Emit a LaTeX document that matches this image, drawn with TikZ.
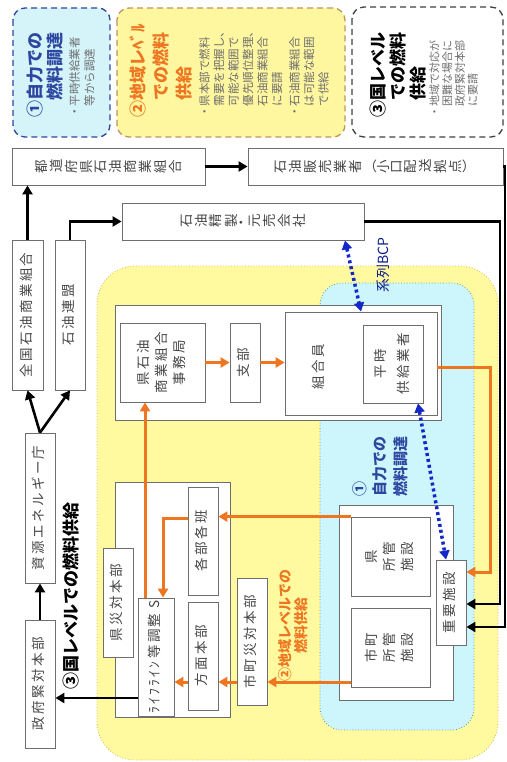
\documentclass[tikz,border=0pt]{standalone}
\usepackage{fontspec}
\usepackage{graphicx}
\setmainfont{Noto Sans CJK JP}
\newfontfamily\bx{Noto Sans CJK JP}[LetterSpace=18]
\usetikzlibrary{arrows.meta}

\definecolor{boxline}{RGB}{110,110,110}
\definecolor{boxtext}{RGB}{70,70,70}
\definecolor{orng}{RGB}{238,118,32}
\definecolor{yel}{RGB}{255,250,160}
\definecolor{yelline}{RGB}{215,185,70}
\definecolor{cyn}{RGB}{205,246,252}
\definecolor{cynline}{RGB}{110,150,140}
\definecolor{lgdblue}{RGB}{45,70,160}
\definecolor{bcpblue}{RGB}{20,40,200}
\definecolor{lgdfill}{RGB}{212,244,250}
\definecolor{lgdyel}{RGB}{255,246,160}
\definecolor{lgdorline}{RGB}{190,150,90}
\definecolor{grytext}{RGB}{110,110,110}

% horizontal text turned a quarter left
\newcommand\rt[1]{\rotatebox{90}{\begin{tabular}{@{}c@{}}#1\end{tabular}}}
% vertical text turned a quarter left
\makeatletter
\newcommand\tate[1]{\@tfor\tate@c:=#1\do{\rotatebox[origin=c]{90}{\tate@c}\kern2.6pt}\unkern}
\makeatother

\tikzset{
  box/.style={draw=boxline, fill=white, line width=0.8pt, inner sep=0pt,
    font=\bx\fontsize{13.5}{18}\selectfont, text=boxtext},
  lgd/.style={rotate=90, anchor=north west, inner sep=0pt, align=left},
  blk/.style={line width=2.6pt, -{Triangle[length=9pt,width=10pt]}},
  org/.style={draw=orng, line width=3pt, -{Triangle[length=9pt,width=10pt]}},
  bcp/.style={draw=bcpblue, line width=3.5pt, dash pattern=on 3pt off 3pt,
    {Triangle[length=9pt,width=10pt]}-{Triangle[length=9pt,width=10pt]}},
}

\begin{document}
\begin{tikzpicture}[x=1pt, y=-1pt]
		\useasboundingbox (0,0) rectangle (506,762);

		% Legend boxes
		\draw[lgdblue, fill=lgdfill, line width=1.3pt, dash pattern=on 6pt off 4pt, rounded corners=12] (13,8) rectangle (110,137);
		\draw[lgdorline, fill=lgdyel, line width=1.3pt, dash pattern=on 6pt off 4pt, rounded corners=12] (117,8) rectangle (345,137);
		\draw[black!75, fill=white, line width=1.3pt, dash pattern=on 6pt off 4pt, rounded corners=12] (352,7) rectangle (503,137);

		\node[lgd, text=lgdblue, font=\bfseries\fontsize{17}{20}\selectfont] (t1) at (27,118) {①自力での\\\phantom{①}燃料調達};
		\node[lgd, text=grytext, font=\fontsize{11.5}{15}\selectfont] (s1) at (69,118) {・平時供給業者\\\phantom{・}等から調達};

		\node[lgd, text=orng, font=\bfseries\fontsize{17}{23}\selectfont] (t2) at (130,118) {②地域レﾍﾞﾙ\\\phantom{②}での燃料\\\phantom{②}供給};
		\node[lgd, text=grytext, font=\fontsize{11.5}{14.5}\selectfont] (s2) at (199,118)
			{・県本部で燃料\\\phantom{・}需要を把握し、\\\phantom{・}可能な範囲で\\\phantom{・}優先順位整理、\\\phantom{・}石油商業組合\\\phantom{・}に要請\\[3pt]・石油商業組合\\\phantom{・}は可能な範囲\\\phantom{・}で供給};

		\node[lgd, text=black, font=\bfseries\fontsize{17}{20}\selectfont] (t3) at (370,118) {③国レベル\\\phantom{③}での燃料\\\phantom{③}供給};
		\node[lgd, text=grytext, font=\fontsize{11}{12.8}\selectfont] (s3) at (429,118) {・地域で対応が\\\phantom{・}困難な場合に\\\phantom{・}政府緊対本部\\\phantom{・}に要請};

		% Regions
		\draw[yelline, fill=yel, dotted, line width=0.8pt, rounded corners=38] (97,266) rectangle (498,760);
		\draw[cynline, fill=cyn, dotted, line width=0.8pt, rounded corners=22] (320,283) rectangle (474,730);

		% Containers
		\draw[boxline, fill=white, line width=0.8pt] (115,305) rectangle (441,420);
		\draw[boxline, fill=white, line width=0.8pt] (115,482) rectangle (230,717);
		\draw[boxline, fill=white, line width=0.8pt] (339,505) rectangle (453,700);

		% National level
		\node[box, minimum width=193, minimum height=37] (todofuken) at (108.5,166.5) {\tate{都道府県石油商業組合}};
		\node[box, minimum width=255, minimum height=37] (hanbai) at (375.5,166.5) {\tate{石油販売業者}\kern2pt（\tate{小口配送拠点}）};
		\node[box, minimum width=242, minimum height=37] (seisei) at (243,221.5) {\tate{石油精製・元売会社}};
		\node[box, minimum width=31, minimum height=150] (zenkoku) at (27.5,315) {\rt{全国石油商業組合}};
		\node[box, minimum width=30, minimum height=150] (renmei) at (70,315) {\rt{石油連盟}};
		\node[box, minimum width=30, minimum height=150] (ene) at (40,508) {\rt{資源エネルギー庁}};
		\node[box, minimum width=30, minimum height=128] (gov) at (40,684) {\rt{政府緊対本部}};
		\node[rotate=90, font=\bfseries\fontsize{17}{20}\selectfont] (kunilbl) at (71,596) {③国レベルでの燃料供給};

		% Prefecture association
		\node[box, minimum width=85, minimum height=79] (jimukyoku) at (162.5,362.5) {\rt{県石油\\商業組合\\事務局}};
		\node[box, minimum width=30, minimum height=79] (shibu) at (245,362.5) {\rt{支部}};
		\node[box, minimum width=152, minimum height=103] (kumiai) at (361,363.5) {};
		\node[inner sep=0pt, font=\bx\fontsize{13.5}{18}\selectfont, text=boxtext] (kumiaitxt) at (320,367) {\rt{組合員}};
		\node[box, minimum width=60, minimum height=78] (heiji) at (393,364) {\rt{平時\\[5pt]供給業者}};

		% Disaster headquarters
		\node[box, minimum width=30, minimum height=109] (kensai) at (118,602.5) {\rt{県災対本部}};
		\node[box, minimum width=36, minimum height=118] (lifeline) at (156,657) {\rt{ﾗｲﾌﾗｲﾝ等調整 S}};
		\node[box, minimum width=30, minimum height=108] (homen) at (203,656) {\rt{方面本部}};
		\node[box, minimum width=30, minimum height=108] (kakubu) at (203,541) {\rt{各部各班}};
		\node[box, minimum width=30, minimum height=127] (shichosai) at (252,641.5) {\rt{市町災対本部}};
		\node[rotate=90, align=center, text=orng, font=\bfseries\fontsize{14}{16.5}\selectfont] (chiikilbl) at (293,625) {②地域レベルでの\\燃料供給};

		% Facilities
		\node[box, minimum width=79, minimum height=79] (kenshisetsu) at (390.5,556.5) {\rt{県\\所管\\施設}};
		\node[box, minimum width=79, minimum height=79] (shichoshisetsu) at (390.5,647.5) {\rt{市町\\所管\\施設}};
		\node[box, minimum width=30, minimum height=85] (juyo) at (451,602.5) {\rt{重要施設}};
		\node[lgd, text=lgdblue, font=\bfseries\fontsize{15}{20.5}\selectfont] (jirikilbl) at (352,497) {①\\自力での\\燃料調達};
		\node[rotate=90, text=bcpblue!70!black, font=\fontsize{14}{16}\selectfont] (bcplbl) at (383,265) {系列BCP};

		% Black connectors
		\draw[blk] (todofuken) -- (hanbai);
		\draw[blk] (zenkoku.north) -- (zenkoku.north |- todofuken.south);
		\draw[blk] (renmei.north) |- (seisei.west);
		\draw[blk] (ene.north) -- (zenkoku.south);
		\draw[blk] (ene.north) -- (renmei.south);
		\draw[blk] (gov) -- (ene);
		\draw[blk] (lifeline.west |- 0,698) -- (gov.east |- 0,698);
		\draw[blk] (seisei.east) -| (500,604) -- (juyo.east |- 0,604);
		\draw[blk] (hanbai.east) -| (505,627) -- (juyo.east |- 0,627);

		% Orange connectors
		\draw[org] (jimukyoku) -- (shibu);
		\draw[org] (shibu.east) -- (kumiai.west |- shibu.east);
		\draw[org] (kumiai.east |- 0,367) -| (490,572) -- (juyo.east |- 0,572);
		\draw[org] (kenshisetsu.north west) -- (kakubu.east |- kenshisetsu.north west);
		\draw[org] (kakubu.west |- 0,518) -| (lifeline.north -| 163,0);
		\draw[org] (lifeline.north -| 145,0) -- (jimukyoku.south -| 145,0);
		\draw[org] (homen.west |- 0,682) -- (lifeline.east |- 0,682);
		\draw[org] (shichosai.west |- 0,682) -- (homen.east |- 0,682);
		\draw[org] (shichoshisetsu.west |- 0,682) -- (shichosai.east |- 0,682);

		% BCP links
		\draw[bcp] (seisei.south -| 345,0) -- (kumiai.north -| 361,0);
		\draw[bcp] (heiji.south -| 418,0) -- (juyo.north -| 446,0);

	\end{tikzpicture}
\end{document}
